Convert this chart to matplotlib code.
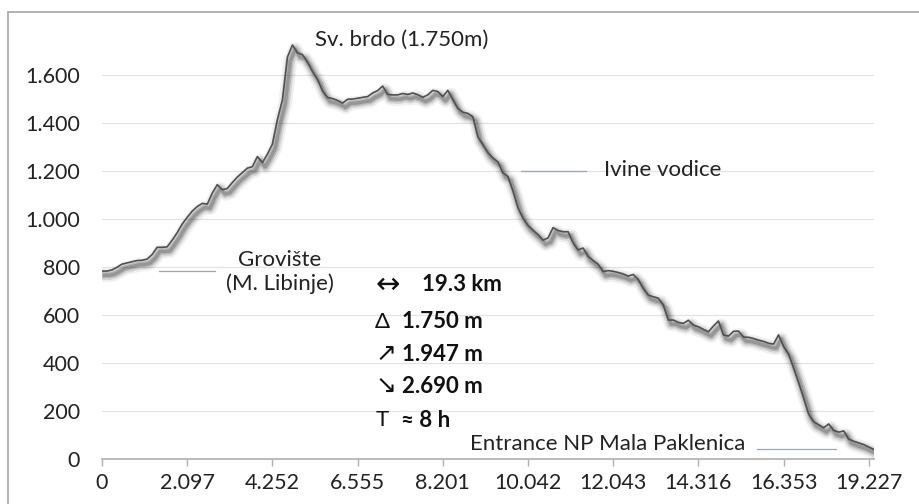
import matplotlib
matplotlib.use("Agg")
import matplotlib.pyplot as plt
import matplotlib.patheffects as pe
from matplotlib.patches import Rectangle

# elevation (m) sampled evenly along the track, 17 samples per labelled step
elev = [783, 783, 788, 799, 812, 817, 822, 827, 828, 833,
        852, 882, 882, 884, 912, 943, 979, 1007, 1033, 1052,
        1065, 1062, 1108, 1143, 1122, 1127, 1152, 1175, 1193, 1212,
        1218, 1260, 1235, 1270, 1312, 1415, 1496, 1675, 1725, 1692,
        1685, 1654, 1615, 1582, 1534, 1506, 1502, 1494, 1483, 1499,
        1500, 1503, 1507, 1510, 1525, 1535, 1554, 1519, 1517, 1517,
        1523, 1519, 1525, 1518, 1507, 1517, 1536, 1531, 1510, 1536,
        1498, 1461, 1445, 1440, 1426, 1342, 1310, 1276, 1254, 1238,
        1192, 1177, 1117, 1046, 1004, 973, 953, 935, 912, 921,
        964, 952, 947, 947, 901, 871, 879, 844, 827, 811,
        781, 785, 782, 777, 771, 762, 769, 748, 711, 683,
        676, 670, 642, 579, 579, 569, 565, 578, 558, 551,
        540, 530, 554, 575, 517, 512, 532, 533, 508, 507,
        502, 495, 490, 482, 479, 517, 469, 437, 379, 318,
        254, 187, 155, 143, 130, 146, 119, 112, 117, 83,
        74, 67, 60, 50, 40]

dist_labels = ["0", "2.097", "4.252", "6.555", "8.201",
               "10.042", "12.043", "14.316", "16.353", "19.227"]
dist_idx = [0, 17, 34, 51, 68, 85, 102, 119, 136, 153]

y_ticks = [0, 200, 400, 600, 800, 1000, 1200, 1400, 1600]
y_labels = ["0", "200", "400", "600", "800", "1.000", "1.200", "1.400", "1.600"]

plt.rcParams["font.family"] = ["Lato", "DejaVu Sans"]

fig = plt.figure(figsize=(9.2, 5.04), dpi=100)
ax = fig.add_axes([102/920, 1-459/504, (873.8-102)/920, (459-39)/504])

x = list(range(len(elev)))
shadow = [pe.SimpleLineShadow(offset=(2, -3), shadow_color="black", alpha=0.06, linewidth=10),
          pe.SimpleLineShadow(offset=(2, -3), shadow_color="black", alpha=0.10, linewidth=7),
          pe.SimpleLineShadow(offset=(2, -3), shadow_color="black", alpha=0.14, linewidth=4.5),
          pe.SimpleLineShadow(offset=(2, -3), shadow_color="black", alpha=0.18, linewidth=2.5),
          pe.Normal()]
ax.plot(x, elev, color="#505050", lw=1.2, path_effects=shadow, zorder=3)

ax.set_xlim(0, len(elev) - 1)
ax.set_ylim(0, 1750)
ax.set_yticks(y_ticks, y_labels)
ax.set_xticks(dist_idx, dist_labels)
ax.grid(axis="y", color="#e3e3e3", lw=0.9)
ax.set_axisbelow(True)
for s in ["top", "right", "left"]:
    ax.spines[s].set_visible(False)
ax.spines["bottom"].set_color("#b0b0b0")
ax.spines["bottom"].set_linewidth(1.2)
ax.tick_params(axis="y", length=0, pad=16, labelsize=15.5, labelcolor="#222222")
ax.tick_params(axis="x", length=5, width=1, color="#b0b0b0", pad=5, labelsize=15.5, labelcolor="#222222")

blue = "#86aad6"
tsize = 16
ax.text(42.5, 1745, "Sv. brdo (1.750m)", fontsize=tsize, va="center", ha="left", color="#222222")
ax.plot([83.6, 96.6], [1200, 1200], color=blue, lw=0.9)
ax.text(100.2, 1204, "Ivine vodice", fontsize=tsize, va="center", ha="left", color="#222222")
ax.plot([11.4, 22.5], [785, 785], color=blue, lw=0.9)
ax.text(35.5, 829, "Grovište", fontsize=tsize, va="center", ha="center", color="#222222")
ax.text(35.5, 729, "(M. Libinje)", fontsize=tsize, va="center", ha="center", color="#222222")
ax.plot([130.7, 146.4], [40, 40], color=blue, lw=0.9)
ax.text(73.4, 61, "Entrance NP Mala Paklenica", fontsize=tsize, va="center", ha="left", color="#222222")

stat_sym = ["↔", "Δ", "↗", "↘", "T"]
stat_val = ["19.3 km", "1.750 m", "1.947 m", "2.690 m", "≈ 8 h"]
stat_y = [727, 572, 437, 301, 162]
stat_x = [63.8, 59.9, 59.9, 59.9, 59.6]
for sym, val, yy, xx in zip(stat_sym, stat_val, stat_y, stat_x):
    if sym in "↔↗↘":
        ax.text(54.5, yy, sym, fontsize=21 if sym == "↔" else 18, va="center", ha="left",
                color="#111111", family=["DejaVu Sans"])
    else:
        ax.text(54.5, yy, sym, fontsize=tsize, va="center", ha="left", color="#111111")
    ax.text(xx, yy, val, fontsize=tsize, va="center", ha="left", fontweight="bold", color="#111111")

fig.add_artist(Rectangle((8/920, -0.1), 1.2, (504-12)/504 + 0.1, transform=fig.transFigure,
                         fill=False, edgecolor="#a6a6a6", lw=1.2))

plt.savefig("out.png", dpi=100)
